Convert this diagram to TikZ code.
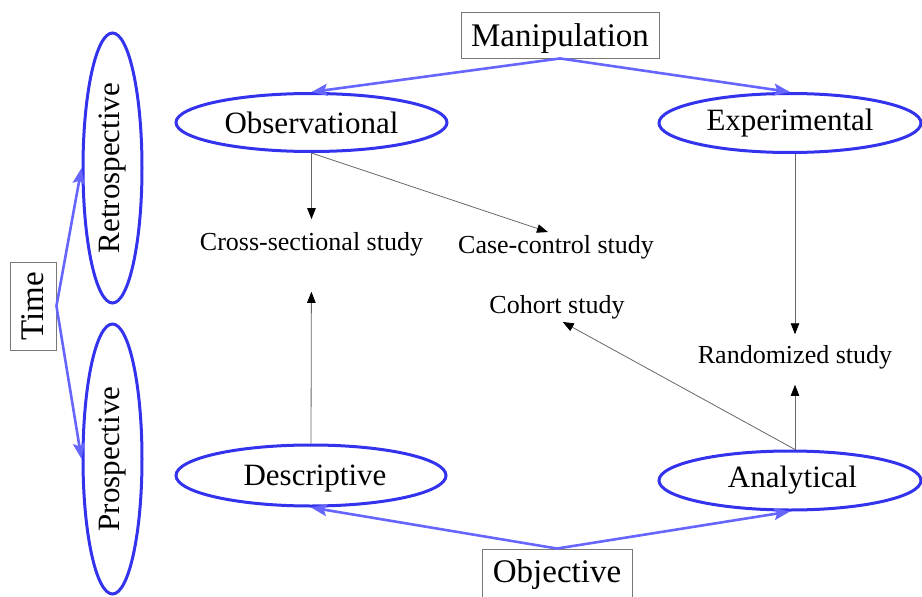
\documentclass[tikz,border=0pt]{standalone}
\usepackage{fontspec}
\setmainfont{Liberation Serif}
\usetikzlibrary{shapes.geometric,arrows.meta,calc}
\definecolor{ringblue}{RGB}{51,51,238}
\definecolor{linkblue}{RGB}{102,102,255}
\definecolor{boxgray}{RGB}{120,120,120}
\begin{document}
\begin{tikzpicture}[x=1pt,y=-1pt,
  category/.style={ellipse, draw=ringblue, line width=3pt, inner sep=0pt,
    font=\fontsize{31}{37}\selectfont},
  factor/.style={rectangle, draw=boxgray, line width=0.9pt, inner sep=0pt,
    font=\fontsize{33}{40}\selectfont},
  design/.style={inner sep=0pt, font=\fontsize{26}{31}\selectfont},
  link/.style={draw=linkblue, line width=2.6pt,
    -{Stealth[length=16pt,width=12pt,inset=3pt]}},
  lead/.style={draw=black!60, line width=0.8pt,
    -{Triangle[length=11pt,width=8.5pt,color=black]}}]
\useasboundingbox (0,0) rectangle (922,597);
\clip (0,0) rectangle (922,597);

% grouping factors
\node[factor, minimum width=198pt, minimum height=46pt, text depth=0pt] (manip) at (560,35) {Manipulation};
\node[factor, minimum width=150pt, minimum height=52pt] (object) at (557,575) {Objective};
\node[factor, rotate=90, minimum width=88pt, minimum height=46pt] (time) at (33,306) {Time};

% study categories
\node[category, minimum width=271pt, minimum height=58pt] (obs) at (311.5,122.5) {Observational};
\node[category, minimum width=262pt, minimum height=59pt] (exp) at (790,123) {Experimental};
\node[category, minimum width=270pt, minimum height=61pt, text depth=0pt] (desc) at (311,475.5) {\hspace*{8pt}Descriptive};
\node[category, minimum width=262pt, minimum height=59pt] (ana) at (790,480.5) {\hspace*{5pt}Analytical};
\node[category, rotate=90, minimum width=270pt, minimum height=59pt] (retro) at (112.5,168) {Retrospective};
\node[category, rotate=90, minimum width=270pt, minimum height=59pt] (pro) at (112.5,459) {Prospective};

% study designs
\node[design, anchor=base] (cross) at (311.5,250) {Cross-sectional study};
\node[design, anchor=base] (case) at (556,253) {Case-control study};
\node[design, anchor=base] (cohort) at (557,313) {Cohort study};
\node[design, anchor=base] (rand) at (795,363) {Randomized study};

% factor to category
\draw[link] (manip.south) -- (obs.north);
\draw[link] (manip.south) -- (exp.north);
\draw[link] (object.north) -- (desc.south);
\draw[link] (object.north) -- (ana.south);
\draw[link] (time.south) -- (retro.north);
\draw[link] (time.south) -- (pro.north);

% category to design
\draw[lead, shorten >=12.6pt] (obs.south) -- (cross.north);
\draw[lead, shorten >=8.5pt] (obs.south) -- (case.north);
\draw[lead, shorten >=36pt] (desc.north) -- (cross.south);
\draw[lead, shorten >=10.5pt] (exp.south -| rand.north) -- (rand.north);
\draw[lead, shorten >=16pt] (ana.north -| rand.north) -- (rand.south);
\draw[lead, shorten >=6.5pt] (ana.north -| rand.north) -- (cohort.south);
\end{tikzpicture}
\end{document}
